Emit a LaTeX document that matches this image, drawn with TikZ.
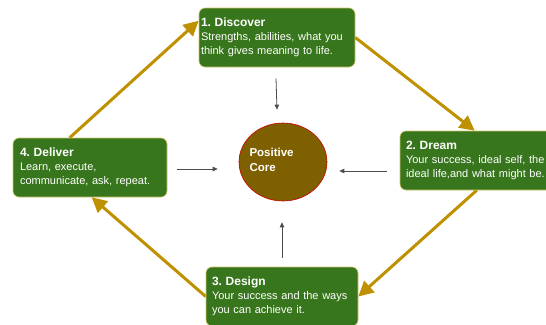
\documentclass[tikz,border=0pt]{standalone}
\usepackage{fontspec}
\setmainfont{Liberation Sans}
\usetikzlibrary{positioning}
\usetikzlibrary{calc}
\usetikzlibrary{shapes.geometric, arrows.meta}

\definecolor{leafgreen}{HTML}{38761D}
\definecolor{paleolive}{HTML}{D3C46A}
\definecolor{coregold}{HTML}{BF9000}
\definecolor{corebrown}{HTML}{7F6000}
\definecolor{corered}{HTML}{CC0000}
\newcommand{\stagetitle}[1]{{\bfseries\fontsize{12}{14}\selectfont #1}}
\frenchspacing

\begin{document}
\begin{tikzpicture} [x=1pt, y=-1pt]
    % stage boxes, cycle arrows and the core in the middle
    \tikzstyle{stage} = [draw=paleolive, line width=0.6pt, fill=leafgreen, rounded corners=6pt,
        text=white, minimum height=59pt, align=left, inner ysep=0pt,
        font=\fontsize{11}{14}\selectfont]
    \tikzstyle{cycle} = [draw=coregold, line width=3pt, -{Triangle[length=15pt,width=15pt]}]
    \tikzstyle{pointer} = [draw=black!70, line width=0.8pt, -{Triangle[length=5pt,width=4.5pt]}]

    \useasboundingbox (0,0) rectangle (546,324);
    \clip (0,0) rectangle (546,324);

    % the four stages
    \node (discover) [stage, minimum width=156pt, text width=152pt, inner xsep=2pt]
        at (277,37.5) {\stagetitle{1. Discover}\\Strengths, abilities, what you\\think gives meaning to life.};
    \node (dream) [stage, minimum width=170pt, text width=158pt, inner xsep=6pt]
        at (485,160.5) {\stagetitle{2. Dream}\\Your success, ideal self, the\\ideal life,and what might be.};
    \node (design) [stage, minimum width=152pt, text width=140pt, inner xsep=6pt]
        at (282,296.5) {\stagetitle{3. Design}\\Your success and the ways\\you can achieve it.};
    \node (deliver) [stage, minimum width=154pt, text width=140pt, inner xsep=7pt]
        at (90,167.5) {\stagetitle{4. Deliver}\\Learn, execute,\\communicate, ask, repeat.};

    % the core
    \node (core) [ellipse, draw=corered, line width=0.6pt, fill=corebrown,
        minimum width=88pt, minimum height=78pt] at (283,162) {};
    \node (corelabel) [anchor=west, align=left, text=white,
        font=\bfseries\fontsize{11.5}{15}\selectfont] at ([xshift=-37pt,yshift=2pt]core.center) {Positive\\Core};

    % cycle arrows
    \draw[cycle] ([xshift=57pt]deliver.north west) -- ([yshift=-13pt]discover.north west);
    \draw[cycle] (discover.east) -- ([xshift=75pt]dream.north west);
    \draw[cycle] ([xshift=77pt]dream.south west) -- (design.east);
    \draw[cycle] (design.west) -- ([xshift=79pt]deliver.south west);

    % small arrows into the core
    \draw[pointer] ([xshift=-1pt,yshift=-11pt]discover.south) -- ([xshift=-6pt,yshift=13pt]core.north);
    \draw[pointer] ([xshift=-13pt,yshift=-10.5pt]dream.west) -- ([xshift=12pt,yshift=-9pt]core.east);
    \draw[pointer] ([xshift=10pt,yshift=-1.5pt]deliver.east) -- ([xshift=-21pt,yshift=-7pt]core.west);
    \draw[pointer] ([yshift=9pt]design.north) -- ([xshift=-1pt,yshift=-21pt]core.south);

\end{tikzpicture}
\end{document}
